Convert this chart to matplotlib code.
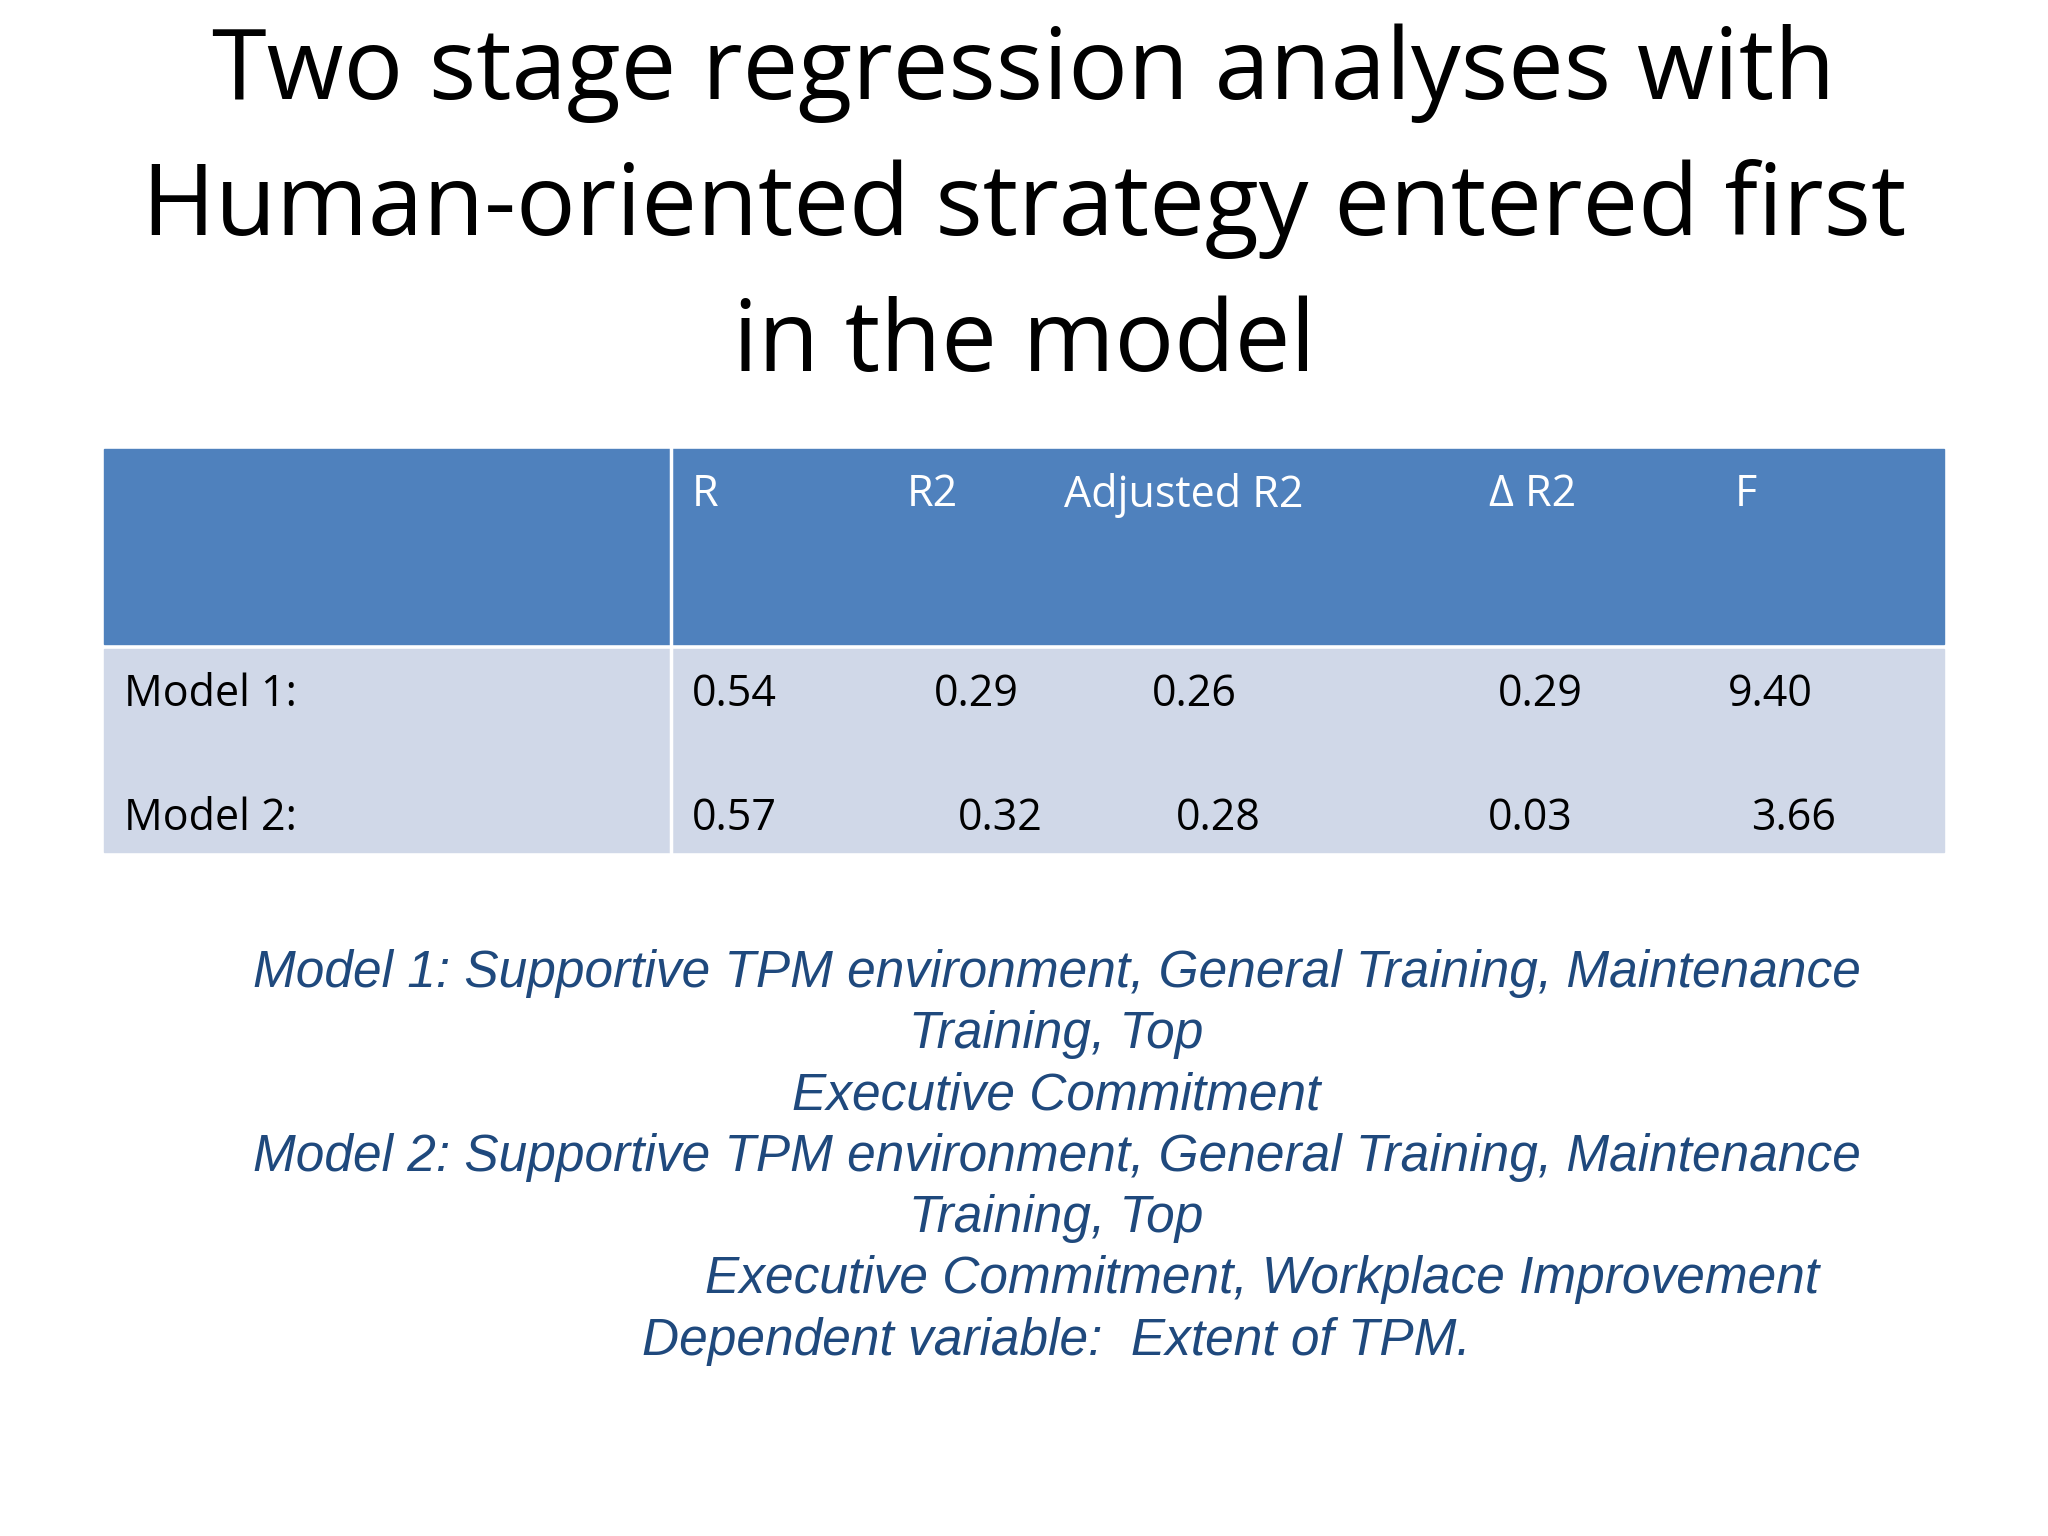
import matplotlib.pyplot as plt
from matplotlib.patches import Rectangle

title_lines = ["Two stage regression analyses with",
               "Human-oriented strategy entered first",
               "in the model"]
columns = ["R", "R2", "Adjusted R2", "\u0394 R2", "F"]
row_labels = ["Model 1:", "Model 2:"]
values = [["0.54", "0.29", "0.26", "0.29", "9.40"],
          ["0.57", "0.32", "0.28", "0.03", "3.66"]]
notes = ["Model 1: Supportive TPM environment, General Training, Maintenance",
         "Training, Top",
         "Executive Commitment",
         "Model 2: Supportive TPM environment, General Training, Maintenance",
         "Training, Top",
         "Executive Commitment, Workplace Improvement",
         "Dependent variable:  Extent of TPM."]

W, H = 1568, 1176  # layout reference grid


def fx(x):
    return x / W


def fy(y):
    return 1 - y / H


fig = plt.figure(figsize=(20.48, 15.36), dpi=100)
fig.patch.set_facecolor("white")
head_font = ["Open Sans", "DejaVu Sans"]

for i, line in enumerate(title_lines):
    fig.text(0.5, fy(56 + i * 104), line, ha="center", va="center",
             fontsize=71.5, family=head_font, color="black")

# table background
fig.patches.append(Rectangle((fx(80), fy(493)), fx(1488) - fx(80), fy(344) - fy(493),
                             transform=fig.transFigure, color="#4F81BD"))
fig.patches.append(Rectangle((fx(80), fy(652)), fx(1488) - fx(80), fy(497) - fy(652),
                             transform=fig.transFigure, color="#D0D8E8"))
fig.lines.append(plt.Line2D([fx(514), fx(514)], [fy(344), fy(652)],
                            transform=fig.transFigure, color="white", lw=2.5))

col_x = [530, 694, 815, 1140, 1328]
for x, c in zip(col_x, columns):
    fig.text(fx(x), fy(379), c, ha="left", va="center", fontsize=31,
             family=head_font, color="white")

val_x = [[530, 715, 882, 1147, 1323], [530, 733, 900, 1139, 1341]]
row_y = [532, 627]
for r, (lab, vals) in enumerate(zip(row_labels, values)):
    fig.text(fx(95), fy(row_y[r]), lab, ha="left", va="center", fontsize=31,
             family=head_font, color="black")
    for x, v in zip(val_x[r], vals):
        fig.text(fx(x), fy(row_y[r]), v, ha="left", va="center", fontsize=31,
                 family=head_font, color="black")

note_x = [809, 809, 809, 809, 809, 966, 809]
for i, (x, n) in enumerate(zip(note_x, notes)):
    fig.text(fx(x), fy(745 + i * 47), n, ha="center", va="center", fontsize=37,
             family=["Liberation Sans", "DejaVu Sans"], style="italic",
             color="#1F497D")

fig.savefig("out.png", dpi=100)
plt.close(fig)
